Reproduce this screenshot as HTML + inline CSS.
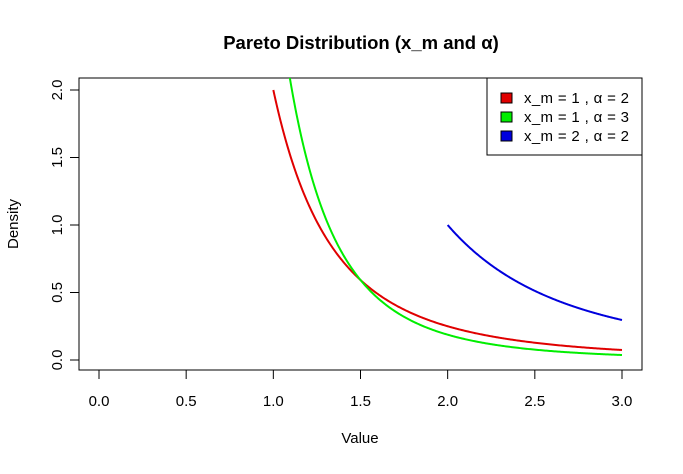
<!DOCTYPE html>
<html><head><meta charset="utf-8"><style>
body{margin:0;background:#fff}
text{font-family:"Liberation Sans","DejaVu Sans",sans-serif;font-size:15px;fill:#000}
</style></head><body>
<svg id="s" width="683" height="469" xmlns="http://www.w3.org/2000/svg">
<defs><clipPath id="c"><rect x="79" y="78" width="563" height="292"/></clipPath></defs>
<rect width="683" height="469" fill="#fff"/>
<text x="361" y="49" text-anchor="middle" style="font-weight:bold;font-size:18.5px">Pareto Distribution (x_m and α)</text>
<rect x="79" y="78" width="563" height="292" fill="none" stroke="#000"/>
<g id="ax" stroke="#000"></g>
<text x="360" y="443" text-anchor="middle">Value</text>
<text transform="translate(18,224) rotate(-90)" text-anchor="middle">Density</text>
<g clip-path="url(#c)" fill="none" stroke-width="2">
<path id="r" stroke="#e00000"/><path id="g" stroke="#00ee00"/><path id="b" stroke="#0000dd"/>
</g>
<rect x="487" y="78" width="155" height="77" fill="#fff" stroke="#000"/>
<rect x="501" y="93" width="11" height="10" fill="#e00000" stroke="#000"/>
<rect x="501" y="112" width="11" height="10" fill="#00ee00" stroke="#000"/>
<rect x="501" y="131" width="11" height="10" fill="#0000dd" stroke="#000"/>
<text x="524" y="103" textLength="105">x_m = 1 , α = 2</text>
<text x="524" y="122" textLength="105">x_m = 1 , α = 3</text>
<text x="524" y="141" textLength="105">x_m = 2 , α = 2</text>
</svg>
<script>
var X=v=>99+v*174.33,Y=v=>360-v*135;
function p(id,a,b,f){var d="";for(var i=0;i<=300;i++){var x=a+(b-a)*i/300;d+=(i?"L":"M")+X(x).toFixed(2)+","+Y(f(x)).toFixed(2);}document.getElementById(id).setAttribute("d",d);}
p("r",1,3,x=>2/x**3);p("g",1,3,x=>3/x**4);p("b",2,3,x=>8/x**3);
var s="";
for(var i=0;i<=6;i++){var v=i*0.5,x=X(v);s+='<line x1="'+x+'" x2="'+x+'" y1="370" y2="379"/>';s+='<text stroke="none" x="'+x+'" y="406" text-anchor="middle">'+v.toFixed(1)+'</text>';}
s+='<line x1="'+X(0)+'" x2="'+X(3)+'" y1="370" y2="370"/>';
for(var i=0;i<=4;i++){var v=i*0.5,y=Y(v);s+='<line x1="79" x2="70" y1="'+y+'" y2="'+y+'"/>';s+='<text stroke="none" transform="translate(62,'+y+') rotate(-90)" text-anchor="middle">'+v.toFixed(1)+'</text>';}
s+='<line x1="79" x2="79" y1="'+Y(0)+'" y2="'+Y(2)+'"/>';
document.getElementById("ax").innerHTML=s;
</script>
</body></html>
